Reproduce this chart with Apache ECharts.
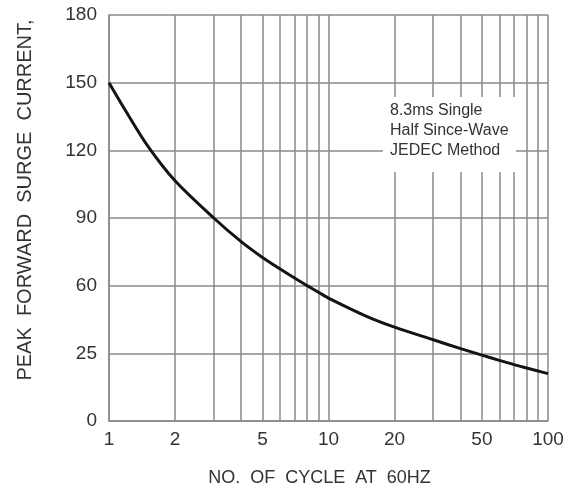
<!DOCTYPE html>
<html>
<head>
<meta charset="utf-8">
<script src="https://cdn.jsdelivr.net/npm/echarts@6/dist/echarts.min.js"></script>
<style>
  html, body { margin: 0; padding: 0; background: #fff; }
  #chart { width: 579px; height: 495px; }
</style>
</head>
<body>
<div id="chart"></div>
<script>
// number of cycles (log axis) and peak surge current
var cycles = [1, 1.2, 1.5, 2, 3, 4, 5, 6, 7, 8, 9, 10, 15, 20, 30, 40, 50, 60, 70, 80, 90, 100];
var surgeCurrent = [150, 137, 122, 106.5, 90, 79.5, 72.5, 67.5, 63.4, 60, 57.1, 54.5, 46.3, 41.6, 36.0, 32.1, 29.2, 26.9, 25.0, 23.5, 22.2, 21.0];
var xTickValues = [1, 2, 5, 10, 20, 50, 100];
var xGridValues = [2, 3, 4, 5, 6, 7, 8, 9, 20, 30, 40, 50, 60, 70, 80, 90];
var yTickLabels = ["0", "25", "60", "90", "120", "150", "180"];
var noteLines = ["8.3ms Single", "Half Since-Wave", "JEDEC Method"];

var gridColor = "#8a8a8a";
var textColor = "#333";
var sans = "'Liberation Sans', Arial, sans-serif";

var chart = echarts.init(document.getElementById("chart"), null, { renderer: "canvas" });

var seriesData = [];
for (var i = 0; i < cycles.length; i++) {
  seriesData.push([cycles[i], surgeCurrent[i]]);
}

var option = {
  backgroundColor: "#ffffff",
  animation: false,
  grid: {
    left: 109,
    right: 31,
    top: 15,
    bottom: 74,
    outerBoundsMode: "none"
  },
  xAxis: {
    type: "log",
    logBase: 10,
    min: 1,
    max: 100,
    name: "NO.  OF  CYCLE  AT  60HZ",
    nameLocation: "middle",
    nameGap: 48,
    nameTextStyle: {
      color: textColor,
      fontFamily: sans,
      fontSize: 18,
      padding: [0, 18, 0, 0]
    },
    axisLine: { lineStyle: { color: gridColor, width: 1.5 } },
    axisTick: { show: false },
    axisLabel: {
      customValues: xTickValues,
      color: textColor,
      fontFamily: sans,
      fontSize: 19,
      margin: 9
    },
    splitLine: { show: true, lineStyle: { color: gridColor, width: 1.5 } }
  },
  yAxis: {
    type: "value",
    min: 0,
    max: 180,
    interval: 30,
    name: "PEAK  FORWARD  SURGE  CURRENT,",
    nameLocation: "middle",
    nameGap: 74,
    nameTextStyle: {
      color: textColor,
      fontFamily: sans,
      fontSize: 20,
      padding: [0, 0, 0, 36]
    },
    axisLine: { show: true, lineStyle: { color: gridColor, width: 1.5 } },
    axisTick: { show: false },
    axisLabel: {
      color: textColor,
      fontFamily: sans,
      fontSize: 19,
      margin: 12,
      formatter: function (v) {
        return yTickLabels[Math.round(v / 30)];
      }
    },
    splitLine: { show: true, lineStyle: { color: gridColor, width: 1.5 } }
  },
  graphic: [
    {
      type: "rect",
      z: 100,
      shape: { x: 383, y: 97, width: 133, height: 75 },
      style: { fill: "#ffffff" }
    },
    {
      type: "text",
      z: 101,
      x: 390,
      y: 101,
      style: {
        text: noteLines.join("\n"),
        font: "16px 'Liberation Sans', Arial, sans-serif",
        lineHeight: 20,
        fill: textColor
      }
    }
  ],
  series: [
    {
      name: "Surge",
      type: "line",
      data: seriesData,
      smooth: 0.3,
      showSymbol: false,
      z: 110,
      lineStyle: { color: "#141414", width: 3 },
      markLine: {
        silent: true,
        symbol: "none",
        label: { show: false },
        lineStyle: { color: gridColor, width: 1.5, type: "solid" },
        data: xGridValues.map(function (v) { return { xAxis: v }; })
      }
    }
  ]
};

chart.setOption(option);
</script>
</body>
</html>
